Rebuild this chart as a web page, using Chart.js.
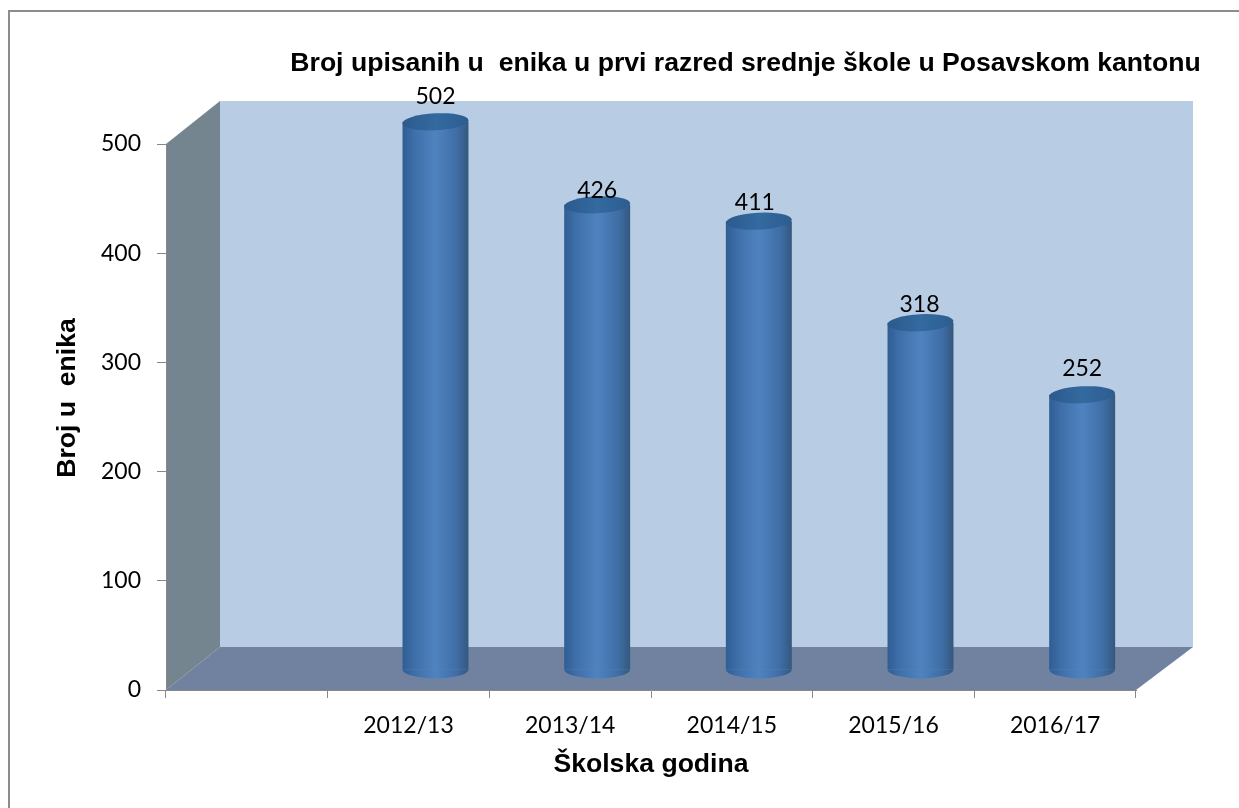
<!DOCTYPE html>
<html>
<head>
<meta charset="utf-8">
<style>
  html, body { margin: 0; padding: 0; background: #fff; }
  #wrap { position: absolute; left: 0; top: 0; width: 1239px; height: 808px; overflow: hidden; }
  #frame { position: absolute; left: 8px; top: 10px; width: 1231px; height: 798px; border-left: 2px solid #8c8c8c; border-top: 2px solid #8c8c8c; box-sizing: border-box; }
</style>
</head>
<body>
<div id="wrap">
  <div id="frame"></div>
  <canvas id="myChart" width="1239" height="808" style="position:absolute;left:0;top:0"></canvas>
</div>
<script src="https://cdn.jsdelivr.net/npm/chart.js@4"></script>
<script>
// first category is left empty in the original
var years = ['', '2012/13', '2013/14', '2014/15', '2015/16', '2016/17'];
var students = [null, 502, 426, 411, 318, 252];
var yTicks = [0, 100, 200, 300, 400, 500];

var chartTitle = 'Broj upisanih u  enika u prvi razred srednje škole u Posavskom kantonu';
var xTitle = 'Školska godina';
var yTitle = 'Broj u  enika';

// fake 3D box depth
var depthX = 54, depthY = 43;
// the value labels sit by hand in the original, px off the bar's top
var labelLift = [0, 45, 34, 39, 38, 46];
var labelShift = [0, 0, 0, -4, -1, 0];

function barGradient(context) {
  var chart = context.chart;
  var x = chart.scales.x.getPixelForValue(context.dataIndex);
  var w = chart.scales.x.getPixelForValue(1) - chart.scales.x.getPixelForValue(0);
  if (!isFinite(x) || !isFinite(w)) return '#4f83c0'; // scales not laid out yet
  var half = w * 0.408 / 2;
  var g = chart.ctx.createLinearGradient(x - half, 0, x + half, 0);
  g.addColorStop(0, '#2f5d94');
  g.addColorStop(0.18, '#3f6fa9');
  g.addColorStop(0.5, '#4f83c0');
  g.addColorStop(0.82, '#3f6ea6');
  g.addColorStop(1, '#34587f');
  return g;
}

var box3d = {
  id: 'box3d',
  beforeDraw: function (chart) {
    var c = chart.ctx, a = chart.chartArea;
    c.save();
    // back wall
    c.fillStyle = '#b8cce4';
    c.fillRect(a.left + depthX, a.top - depthY, a.right - a.left + 3, a.bottom - a.top);
    // left wall
    c.fillStyle = '#75858f';
    c.beginPath();
    c.moveTo(a.left, a.top);
    c.lineTo(a.left + depthX, a.top - depthY);
    c.lineTo(a.left + depthX, a.bottom - depthY);
    c.lineTo(a.left, a.bottom);
    c.closePath();
    c.fill();
    // floor
    c.fillStyle = '#70829f';
    c.beginPath();
    c.moveTo(a.left, a.bottom);
    c.lineTo(a.left + depthX, a.bottom - depthY);
    c.lineTo(a.right + depthX + 3, a.bottom - depthY);
    c.lineTo(a.right, a.bottom);
    c.closePath();
    c.fill();
    c.restore();
  },
  beforeDatasetsDraw: function (chart) {
    var c = chart.ctx;
    c.save();
    c.translate(depthX / 2, -20);
    chart.getDatasetMeta(0).data.forEach(function (bar, i) {
      if (students[i] === null) return;
      c.fillStyle = barGradient({ chart: chart, dataIndex: i });
      c.beginPath();
      c.ellipse(bar.x, bar.base, bar.width / 2, 9, 0, 0, Math.PI);
      c.fill();
    });
  },
  afterDatasetsDraw: function (chart) {
    var c = chart.ctx;
    chart.getDatasetMeta(0).data.forEach(function (bar, i) {
      if (students[i] === null) return;
      var g = c.createLinearGradient(bar.x - bar.width / 2, 0, bar.x + bar.width / 2, 0);
      g.addColorStop(0, '#2c5a8c');
      g.addColorStop(0.5, '#336a9f');
      g.addColorStop(1, '#2d5d90');
      c.fillStyle = g;
      c.beginPath();
      c.ellipse(bar.x, bar.y, bar.width / 2, 8.5, -0.05, 0, Math.PI * 2);
      c.fill();
    });
    c.restore();
    // value labels
    c.save();
    c.fillStyle = '#000';
    c.font = '23px Lato';
    c.textAlign = 'center';
    c.textBaseline = 'middle';
    chart.getDatasetMeta(0).data.forEach(function (bar, i) {
      if (students[i] === null) return;
      c.fillText(String(students[i]), bar.x + depthX / 2 + labelShift[i], bar.y - labelLift[i]);
    });
    c.restore();
  },
  afterDraw: function (chart) {
    var c = chart.ctx;
    c.save();
    c.fillStyle = '#000';
    c.font = 'bold 26.6px "Liberation Sans"';
    c.textBaseline = 'middle';
    c.textAlign = 'center';
    c.fillText(chartTitle, 745.5, 64);
    c.translate(68, 398);
    c.rotate(-Math.PI / 2);
    c.fillText(yTitle, 0, 0);
    c.restore();
  }
};

new Chart('myChart', {
  type: 'bar',
  data: {
    labels: years,
    datasets: [{
      data: students,
      backgroundColor: barGradient,
      borderWidth: 0,
      barPercentage: 0.408,
      categoryPercentage: 1,
      clip: false
    }]
  },
  plugins: [box3d],
  options: {
    responsive: false,
    animation: false,
    layout: { padding: { left: 100, top: 144, right: 103, bottom: 27 } },
    plugins: {
      legend: { display: false },
      tooltip: { enabled: false },
      title: { display: false }
    },
    scales: {
      x: {
        grid: { drawOnChartArea: false, offset: true, color: '#888', tickLength: 8 },
        border: { color: '#888' },
        ticks: { color: '#000', font: { family: 'Lato', size: 23 }, maxRotation: 0, autoSkip: false, padding: 14 },
        title: { display: true, text: xTitle, color: '#000', font: { family: 'Liberation Sans', size: 26.6, weight: 'bold' }, padding: { top: 10, bottom: 0 } },
        afterFit: function (s) { s.height = 91; }
      },
      y: {
        min: 0,
        max: 500,
        grid: { drawOnChartArea: false, color: '#888', tickLength: 9 },
        border: { color: '#888' },
        afterBuildTicks: function (s) { s.ticks = yTicks.map(function (v) { return { value: v }; }); },
        ticks: { color: '#000', font: { family: 'Lato', size: 23 }, padding: 16 },
        afterFit: function (s) { s.width = 66; }
      }
    }
  }
});
</script>
</body>
</html>
